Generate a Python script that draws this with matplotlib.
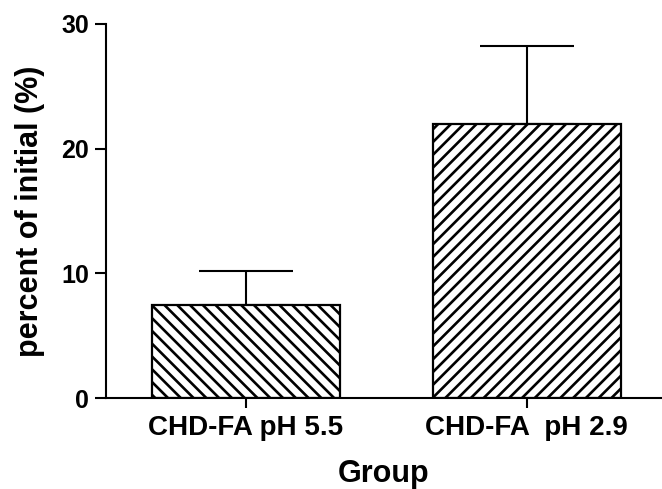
import matplotlib
matplotlib.use("Agg")
import matplotlib.pyplot as plt

categories = ["CHD-FA pH 5.5", "CHD-FA  pH 2.9"]
means = [7.45, 21.97]
errors_up = [2.75, 6.28]
hatches = ["\\\\\\", "///"]
yticks = [0, 10, 20, 30]

DPI = 115
k = 100.0 / DPI  # keep pixel sizes as designed at 100 dpi

plt.rcParams['font.family'] = ['Liberation Sans', 'DejaVu Sans']
plt.rcParams['font.weight'] = 'bold'
plt.rcParams['hatch.linewidth'] = 1.9 * k
plt.rcParams['hatch.color'] = 'black'

fig = plt.figure(figsize=(662 / DPI, 489 / DPI), dpi=DPI)
ax = fig.add_axes([0.160, 0.186, 0.840, 0.765])

x = list(range(len(categories)))
for xi, m, h in zip(x, means, hatches):
    ax.bar(xi, m, width=0.669, color='white', edgecolor='black', linewidth=1.6 * k, hatch=h, zorder=2)
ax.errorbar(x, means, yerr=[[0] * len(errors_up), errors_up], fmt='none', ecolor='black',
            elinewidth=1.5 * k, capsize=34 * k, capthick=1.5 * k, zorder=1)

ax.set_xlim(-0.498, 1.481)
ax.set_ylim(0, 30)
ax.set_yticks(yticks)
ax.set_xticks(x)
ax.set_xticklabels(categories, fontsize=20 * k, fontweight='bold')
ax.tick_params(axis='y', labelsize=18 * k, length=8 * k, width=1.5 * k, pad=4 * k, direction='out')
ax.tick_params(axis='x', length=7 * k, width=1.5 * k, pad=5 * k, direction='out')
for lbl in ax.get_yticklabels():
    lbl.set_fontweight('bold')

for s in ['top', 'right']:
    ax.spines[s].set_visible(False)
for s in ['left', 'bottom']:
    ax.spines[s].set_linewidth(1.5 * k)

ax.set_ylabel("percent of initial (%)", fontsize=22 * k, fontweight='bold', labelpad=12 * k)
ax.set_xlabel("Group", fontsize=22 * k, fontweight='bold', labelpad=13 * k)

fig.savefig("out.png", dpi=DPI)
